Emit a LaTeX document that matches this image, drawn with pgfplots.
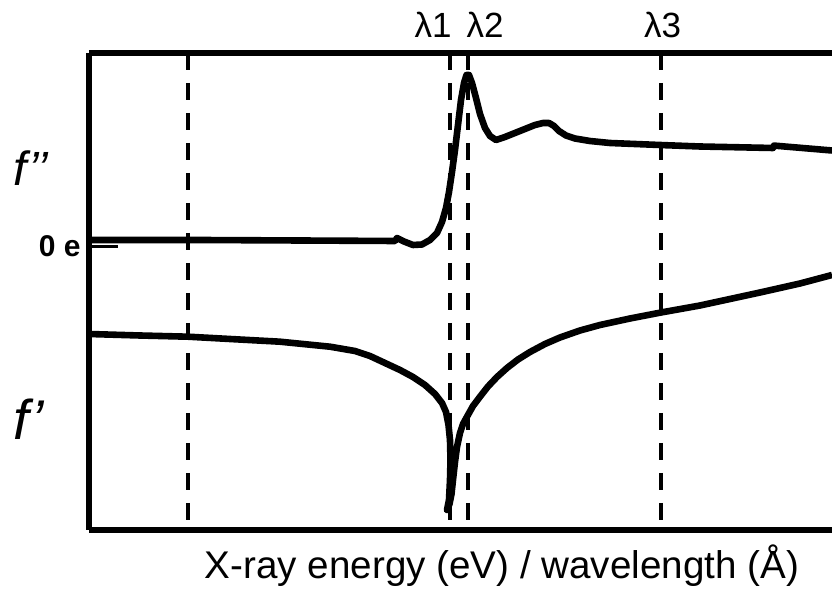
\documentclass[border=0pt]{standalone}
\usepackage{pgfplots}
\pgfplotsset{compat=1.18}
\usepackage{fontspec}
\setmainfont{Liberation Sans}
\begin{document}
\begin{tikzpicture}
\begin{axis}[
  x=0.5pt, y=0.5pt, y dir=reverse,
  xmin=89, xmax=832, ymin=53, ymax=530,
  axis x line=box, axis y line=left,
  axis line style={line width=2.6pt, -},
  xtick=\empty, ytick=\empty,
  clip mode=individual,
]
% dashed wavelength markers
\addplot[line width=2pt, dash pattern=on 8.5pt off 6.5pt] coordinates {(188,53) (188,530)};
\addplot[line width=2pt, dash pattern=on 8.5pt off 6.5pt] coordinates {(450,53) (450,530)};
\addplot[line width=2pt, dash pattern=on 8.5pt off 6.5pt] coordinates {(468,53) (468,530)};
\addplot[line width=2pt, dash pattern=on 8.5pt off 6.5pt] coordinates {(661,53) (661,530)};
% 0 e reference tick
\addplot[line width=1.5pt] coordinates {(89,247) (118,247)};
% f'' curve
\addplot[line width=3.3pt, line join=round] coordinates {
(89,240) (200,240) (300,240.5) (395,241) (397,238) (404,241.5) (413,245) (422,244.5)
(430,240) (437,233) (442,222) (446,208) (449,192) (452,172) (455,150) (458,125)
(461,100) (464,83) (466.5,75) (469,75) (472,83) (476,98) (480,114) (485,128)
(490,136) (496,140) (505,137) (515,133) (525,129) (535,125) (543,123) (549,123)
(554,126) (559,131) (566,135.5) (575,138.5) (590,141) (610,143) (660,145)
(700,146.5) (773,148) (774,145.6) (832,150.5)
};
% f' curve
\addplot[line width=3.3pt, line join=round] coordinates {
(89,334) (140,335.5) (188,336.7) (230,339) (280,341.7) (330,346.7) (355,351)
(370,356) (385,363) (400,370) (413,377) (425,385) (435,394) (442,403) (446,412)
(448.5,425) (450,440) (450.5,460) (450,480) (449,500) (447,510) (449.5,504)
(451.5,494) (453,480) (455,462) (457,447) (460,433) (463,424) (467,416.7)
(473,406) (480,396.7) (488,386.5) (497,377) (507,368) (518,359.5) (530,352)
(545,344) (560,337.5) (580,330.5) (600,325) (630,318.5) (661,312.5) (700,305.5)
(760,292.5) (800,283.5) (832,275)
};
\node[anchor=base, font=\fontsize{17.5}{20}\selectfont] at (axis cs:433,38) {λ1};
\node[anchor=base, font=\fontsize{17.5}{20}\selectfont] at (axis cs:485,38) {λ2};
\node[anchor=base, font=\fontsize{17.5}{20}\selectfont] at (axis cs:662.5,38) {λ3};
\node[anchor=base, font=\fontsize{19.3}{23}\selectfont] at (axis cs:502,579) {X-ray energy (eV) / wavelength (Å)};
\node[anchor=base west, inner sep=0pt, font=\fontsize{24}{28}\selectfont\itshape] at (axis cs:13,186) {f’’};
\node[anchor=base west, inner sep=0pt, font=\fontsize{28}{32}\selectfont\itshape] at (axis cs:13,440) {f’};
\node[anchor=base east, inner sep=0pt, font=\fontsize{15}{17}\selectfont\bfseries] at (axis cs:81,257) {0 e};
\coordinate (BL) at (axis cs:0,592);
\coordinate (TR) at (axis cs:832,0);
\end{axis}
\pgfresetboundingbox
\path[use as bounding box] (BL) rectangle (TR);
\end{tikzpicture}
\end{document}
